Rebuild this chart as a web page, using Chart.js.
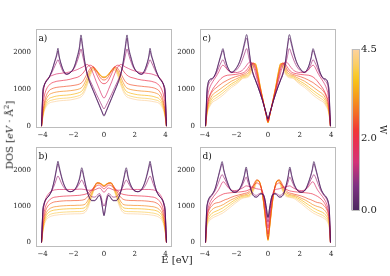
<!DOCTYPE html>
<html>
<head>
<meta charset="utf-8">
<script src="https://cdn.jsdelivr.net/npm/chart.js@4.4.0/dist/chart.umd.min.js"></script>
<style>
  body { margin: 0; width: 390px; height: 276px; background: #fff; position: relative; overflow: hidden; font-family: "DejaVu Serif", serif; }
  canvas { position: absolute; }
  .lbl { position: absolute; color: #222; font-size: 10px; white-space: nowrap; }
</style>
</head>
<body>
<canvas id="panelA" width="176" height="128" style="left:0;top:20px"></canvas>
<canvas id="panelB" width="176" height="129" style="left:0;top:138px"></canvas>
<canvas id="panelC" width="176" height="128" style="left:164px;top:20px"></canvas>
<canvas id="panelD" width="176" height="129" style="left:164px;top:138px"></canvas>
<canvas id="cbar" width="45" height="180" style="left:345px;top:40px"></canvas>
<div class="lbl" id="ylab" style="left:8.5px;top:135px;transform:translate(-50%,-50%) rotate(-90deg)">DOS [<i>eV</i> · Å<sup style="font-size:7px">2</sup>]</div>
<div class="lbl" id="xlab" style="left:177px;top:259px;transform:translate(-50%,-50%)">E [eV]</div>
<script>
// disorder strengths, one curve per value
const wValues = [0, 0.5, 1, 1.5, 2, 2.5, 3, 3.5, 4, 4.5];
const xTicks = [-4, -2, 0, 2, 4];
const yTicks = [0, 1000, 2000];
const barTicks = [0, 2, 4.5];

// curves are symmetric in E, so only E >= 0 is listed
const eHalfA = [0, 0.15, 0.3, 0.5, 0.7, 0.9, 1.1, 1.25, 1.4, 1.5, 1.6, 1.75, 1.95, 2.2, 2.45, 2.65, 2.8, 2.92, 3.0, 3.08, 3.2, 3.4, 3.6, 3.8, 3.92, 3.98, 4.07];
const dosA = [
  [270, 400, 550, 750, 950, 1150, 1420, 1750, 2200, 2470, 2150, 1880, 1600, 1450, 1410, 1520, 1700, 1900, 2110, 1950, 1780, 1500, 1310, 1200, 1080, 950, 0],
  [300, 420, 570, 770, 970, 1170, 1420, 1720, 2130, 2380, 2090, 1840, 1590, 1450, 1410, 1510, 1680, 1860, 2040, 1900, 1750, 1490, 1300, 1190, 1070, 940, 0],
  [470, 570, 700, 870, 1050, 1230, 1420, 1650, 1930, 2090, 1950, 1750, 1560, 1450, 1400, 1460, 1600, 1730, 1800, 1740, 1630, 1450, 1300, 1180, 1060, 880, 0],
  [760, 850, 1000, 1200, 1420, 1600, 1670, 1640, 1600, 1580, 1560, 1530, 1500, 1470, 1450, 1440, 1430, 1425, 1420, 1415, 1400, 1370, 1320, 1200, 1020, 780, 0],
  [1150, 1170, 1250, 1420, 1600, 1650, 1600, 1500, 1420, 1380, 1350, 1320, 1300, 1270, 1250, 1240, 1230, 1225, 1220, 1215, 1200, 1170, 1100, 950, 750, 550, 0],
  [1250, 1270, 1350, 1500, 1610, 1560, 1420, 1300, 1200, 1160, 1140, 1120, 1105, 1090, 1080, 1070, 1065, 1060, 1055, 1050, 1040, 1010, 950, 780, 560, 380, 0],
  [1310, 1330, 1400, 1520, 1590, 1500, 1320, 1180, 1070, 1030, 1010, 990, 975, 960, 950, 945, 940, 935, 930, 925, 915, 890, 840, 690, 500, 340, 0],
  [1330, 1350, 1410, 1520, 1570, 1450, 1230, 1080, 970, 930, 910, 890, 870, 850, 840, 835, 830, 825, 820, 815, 805, 780, 740, 610, 440, 300, 0],
  [1330, 1350, 1410, 1500, 1540, 1400, 1160, 1000, 890, 850, 830, 810, 790, 770, 760, 755, 750, 745, 740, 735, 725, 705, 670, 550, 400, 270, 0],
  [1320, 1340, 1400, 1480, 1510, 1350, 1100, 940, 830, 790, 770, 750, 730, 710, 700, 695, 690, 685, 680, 675, 665, 650, 615, 500, 360, 240, 0]
];

const eHalfB = [0, 0.1, 0.2, 0.3, 0.45, 0.6, 0.8, 1.0, 1.15, 1.3, 1.45, 1.58, 1.75, 1.95, 2.2, 2.45, 2.65, 2.8, 2.92, 3.0, 3.08, 3.2, 3.4, 3.6, 3.8, 3.92, 3.98, 4.07];
const dosB = [
  [730, 950, 1200, 1300, 1220, 1150, 1150, 1280, 1500, 1800, 2060, 1800, 1580, 1440, 1400, 1470, 1650, 1880, 2100, 2240, 2080, 1800, 1450, 1280, 1180, 1050, 900, 0],
  [760, 970, 1210, 1300, 1230, 1160, 1160, 1280, 1480, 1760, 1990, 1760, 1560, 1440, 1400, 1460, 1630, 1840, 2040, 2170, 2030, 1770, 1440, 1280, 1180, 1040, 890, 0],
  [1000, 1100, 1280, 1350, 1300, 1250, 1260, 1350, 1460, 1600, 1720, 1640, 1520, 1430, 1400, 1440, 1540, 1660, 1780, 1830, 1770, 1620, 1420, 1280, 1160, 1000, 850, 0],
  [1380, 1420, 1480, 1500, 1480, 1450, 1440, 1440, 1450, 1460, 1470, 1470, 1465, 1460, 1460, 1460, 1460, 1460, 1460, 1460, 1455, 1450, 1420, 1350, 1200, 1000, 780, 0],
  [1480, 1500, 1550, 1580, 1570, 1520, 1450, 1380, 1340, 1320, 1310, 1300, 1295, 1290, 1285, 1280, 1275, 1270, 1265, 1260, 1255, 1250, 1220, 1150, 1000, 780, 580, 0],
  [1540, 1560, 1600, 1630, 1640, 1570, 1430, 1300, 1220, 1180, 1165, 1160, 1155, 1155, 1150, 1150, 1145, 1140, 1135, 1130, 1125, 1120, 1090, 1030, 880, 650, 450, 0],
  [1560, 1580, 1620, 1640, 1650, 1560, 1380, 1200, 1090, 1040, 1030, 1025, 1025, 1020, 1020, 1015, 1010, 1005, 1000, 995, 990, 985, 960, 910, 780, 580, 400, 0],
  [1570, 1590, 1620, 1640, 1640, 1540, 1330, 1120, 1000, 950, 940, 935, 935, 930, 930, 925, 920, 915, 910, 905, 900, 895, 875, 830, 710, 520, 360, 0],
  [1570, 1590, 1620, 1630, 1630, 1520, 1290, 1060, 930, 870, 855, 850, 850, 848, 845, 840, 835, 830, 825, 820, 815, 810, 790, 750, 640, 470, 320, 0],
  [1560, 1580, 1610, 1620, 1610, 1500, 1250, 1000, 870, 810, 795, 790, 790, 788, 785, 780, 775, 770, 765, 760, 755, 750, 730, 690, 590, 430, 300, 0]
];

const eHalfC = [0, 0.1, 0.2, 0.35, 0.5, 0.65, 0.8, 0.95, 1.1, 1.22, 1.35, 1.47, 1.6, 1.8, 2.05, 2.3, 2.55, 2.72, 2.85, 2.97, 3.1, 3.3, 3.5, 3.7, 3.8, 3.86, 3.95];
const dosC = [
  [200, 330, 480, 700, 900, 1080, 1250, 1420, 1750, 2150, 2480, 2300, 2050, 1750, 1550, 1460, 1600, 1850, 2100, 1950, 1750, 1450, 1300, 1260, 1150, 950, 0],
  [200, 330, 480, 700, 900, 1080, 1250, 1420, 1730, 2100, 2390, 2230, 2000, 1730, 1540, 1460, 1590, 1820, 2050, 1910, 1720, 1440, 1290, 1250, 1140, 930, 0],
  [180, 310, 460, 690, 900, 1090, 1270, 1450, 1650, 1880, 2100, 1980, 1820, 1630, 1500, 1450, 1530, 1680, 1800, 1720, 1600, 1400, 1280, 1180, 1050, 800, 0],
  [150, 300, 470, 720, 950, 1200, 1450, 1650, 1740, 1720, 1650, 1580, 1520, 1470, 1450, 1460, 1520, 1610, 1650, 1600, 1480, 1330, 1200, 1020, 850, 620, 0],
  [130, 290, 470, 740, 1000, 1280, 1550, 1700, 1680, 1600, 1520, 1470, 1440, 1420, 1400, 1390, 1380, 1360, 1330, 1290, 1230, 1120, 1000, 820, 680, 500, 0],
  [110, 280, 470, 760, 1050, 1350, 1620, 1720, 1620, 1520, 1460, 1420, 1400, 1370, 1340, 1300, 1250, 1210, 1180, 1140, 1100, 1030, 950, 780, 620, 450, 0],
  [100, 280, 470, 770, 1070, 1400, 1680, 1700, 1560, 1460, 1410, 1380, 1370, 1320, 1270, 1220, 1150, 1100, 1060, 1020, 980, 920, 850, 690, 550, 400, 0],
  [90, 270, 470, 780, 1090, 1440, 1700, 1660, 1500, 1410, 1370, 1350, 1340, 1280, 1210, 1150, 1070, 1010, 970, 930, 890, 830, 770, 620, 500, 360, 0],
  [90, 270, 470, 780, 1100, 1460, 1680, 1610, 1450, 1370, 1340, 1320, 1310, 1240, 1160, 1100, 1010, 950, 900, 860, 820, 760, 700, 560, 450, 330, 0],
  [90, 270, 470, 780, 1100, 1460, 1650, 1560, 1410, 1340, 1310, 1300, 1290, 1210, 1120, 1050, 960, 890, 840, 800, 760, 700, 650, 520, 420, 300, 0]
];

const eHalfD = [0, 0.1, 0.2, 0.3, 0.45, 0.6, 0.72, 0.85, 1.0, 1.13, 1.26, 1.38, 1.5, 1.65, 1.85, 2.1, 2.35, 2.55, 2.7, 2.8, 2.9, 3.0, 3.13, 3.35, 3.55, 3.72, 3.82, 3.88, 3.95];
const dosD = [
  [700, 950, 1200, 1320, 1340, 1290, 1250, 1260, 1350, 1550, 1800, 2080, 1850, 1620, 1450, 1380, 1450, 1650, 1850, 2020, 2230, 2080, 1850, 1480, 1320, 1230, 1100, 900, 0],
  [680, 940, 1200, 1320, 1340, 1290, 1250, 1260, 1350, 1540, 1770, 2020, 1810, 1600, 1440, 1380, 1440, 1630, 1820, 1980, 2170, 2030, 1820, 1470, 1310, 1220, 1090, 890, 0],
  [560, 850, 1150, 1300, 1360, 1330, 1300, 1310, 1380, 1500, 1650, 1800, 1700, 1550, 1440, 1400, 1450, 1580, 1720, 1800, 1870, 1800, 1650, 1420, 1290, 1180, 1050, 850, 0],
  [400, 750, 1100, 1330, 1450, 1470, 1480, 1500, 1520, 1540, 1550, 1560, 1530, 1490, 1450, 1430, 1450, 1530, 1620, 1670, 1650, 1560, 1450, 1320, 1200, 1050, 880, 680, 0],
  [230, 600, 1000, 1300, 1530, 1620, 1640, 1600, 1520, 1470, 1440, 1420, 1410, 1400, 1390, 1380, 1370, 1360, 1350, 1340, 1320, 1300, 1270, 1200, 1100, 950, 800, 600, 0],
  [100, 450, 850, 1200, 1550, 1700, 1720, 1650, 1520, 1430, 1380, 1360, 1350, 1330, 1310, 1280, 1240, 1200, 1180, 1160, 1140, 1120, 1100, 1080, 1010, 900, 780, 600, 0],
  [80, 420, 820, 1180, 1550, 1710, 1720, 1610, 1460, 1380, 1340, 1320, 1310, 1300, 1270, 1220, 1170, 1120, 1080, 1050, 1030, 1010, 990, 960, 900, 800, 690, 530, 0],
  [60, 400, 800, 1170, 1550, 1710, 1700, 1570, 1410, 1330, 1300, 1290, 1280, 1270, 1230, 1170, 1100, 1040, 1000, 970, 940, 920, 890, 850, 800, 710, 610, 470, 0],
  [60, 400, 790, 1160, 1540, 1700, 1680, 1530, 1370, 1300, 1270, 1260, 1250, 1240, 1190, 1120, 1040, 970, 920, 890, 860, 840, 810, 770, 720, 640, 550, 420, 0],
  [60, 390, 780, 1150, 1530, 1680, 1650, 1490, 1340, 1270, 1250, 1240, 1230, 1210, 1150, 1070, 980, 910, 860, 830, 800, 780, 750, 710, 660, 590, 500, 380, 0]
];

// colormap stops (fraction of W range, rgb)
const cmapStops = [
  [0.00, [55, 14, 78]],
  [0.16, [115, 26, 118]],
  [0.30, [206, 28, 104]],
  [0.44, [234, 24, 56]],
  [0.50, [240, 34, 30]],
  [0.60, [242, 92, 15]],
  [0.72, [245, 152, 0]],
  [0.82, [248, 195, 0]],
  [0.90, [250, 200, 80]],
  [1.00, [252, 205, 150]]
];

function cmap(t, alpha) {
  for (let i = 1; i < cmapStops.length; i++) {
    const [t1, c1] = cmapStops[i];
    const [t0, c0] = cmapStops[i - 1];
    if (t <= t1) {
      const f = (t - t0) / (t1 - t0);
      const c = c0.map((v, k) => Math.round(v + (c1[k] - v) * f));
      return `rgba(${c[0]},${c[1]},${c[2]},${alpha})`;
    }
  }
  const c = cmapStops[cmapStops.length - 1][1];
  return `rgba(${c[0]},${c[1]},${c[2]},${alpha})`;
}

const tickFont = { family: 'DejaVu Serif', size: 7 };
const fmtTick = v => (v < 0 ? '\u2212' + Math.abs(v) : String(v));

// grey frame around each plot area
const framePlugin = {
  id: 'frame',
  afterDraw(chart) {
    const a = chart.chartArea;
    const c = chart.ctx;
    c.save();
    c.strokeStyle = '#bcbcbc';
    c.lineWidth = 1;
    c.strokeRect(Math.round(a.left) + 0.5, Math.round(a.top) + 0.5, Math.round(a.right - a.left) - 1, Math.round(a.bottom - a.top) - 1);
    c.restore();
  }
};

// panel letter in the upper left corner
const tagPlugin = {
  id: 'tag',
  afterDraw(chart, args, opts) {
    if (!opts.text) return;
    const a = chart.chartArea;
    const c = chart.ctx;
    c.save();
    c.fillStyle = '#111';
    c.font = '9px "DejaVu Serif"';
    c.textBaseline = 'middle';
    c.fillText(opts.text, a.left + 2.5, a.top + 9.5);
    c.restore();
  }
};

function makePanel(id, eHalf, dos, xMax, yMin, tag) {
  const datasets = dos.map((row, i) => {
    const pts = [];
    for (let k = eHalf.length - 1; k > 0; k--) pts.push({ x: -eHalf[k], y: row[k] });
    for (let k = 0; k < eHalf.length; k++) pts.push({ x: eHalf[k], y: row[k] });
    return {
      data: pts,
      borderColor: cmap(wValues[i] / 4.5, 0.7),
      borderWidth: 0.9,
      pointRadius: 0,
      cubicInterpolationMode: 'monotone',
      fill: false
    };
  });

  new Chart(document.getElementById(id), {
    type: 'line',
    data: { datasets },
    options: {
      responsive: false,
      animation: false,
      events: [],
      layout: { padding: { top: 4, right: 4, left: 0, bottom: 0 } },
      plugins: { legend: { display: false }, tooltip: { enabled: false }, tag: { text: tag } },
      scales: {
        x: {
          type: 'linear', min: -xMax, max: xMax,
          grid: { display: false, drawTicks: false },
          border: { display: false },
          afterBuildTicks: s => { s.ticks = xTicks.map(v => ({ value: v })); },
          afterFit: s => { s.height = 20; },
          ticks: { padding: 3, font: tickFont, color: '#222', maxRotation: 0, autoSkip: false, callback: fmtTick }
        },
        y: {
          type: 'linear', min: yMin, max: 2625,
          grid: { display: false, drawTicks: false },
          border: { display: false },
          afterBuildTicks: s => { s.ticks = yTicks.map(v => ({ value: v })); },
          afterFit: s => { s.width = 36; },
          ticks: { padding: 5, font: tickFont, color: '#222', autoSkip: false, callback: fmtTick }
        }
      }
    },
    plugins: [framePlugin, tagPlugin]
  });
}

makePanel('panelA', eHalfA, dosA, 4.43, -50, 'a)');
makePanel('panelB', eHalfB, dosB, 4.43, -125, 'b)');
makePanel('panelC', eHalfC, dosC, 4.3, -50, 'c)');
makePanel('panelD', eHalfD, dosD, 4.3, -125, 'd)');

// colour bar for W
new Chart(document.getElementById('cbar'), {
  type: 'bar',
  data: {
    labels: ['W'],
    datasets: [{
      data: [[0, 4.5]],
      borderWidth: 0,
      barPercentage: 1,
      categoryPercentage: 1,
      backgroundColor: ctx => {
        const area = ctx.chart.chartArea;
        if (!area) return 'rgba(0,0,0,0)';
        const g = ctx.chart.ctx.createLinearGradient(0, area.bottom, 0, area.top);
        for (let i = 0; i <= 20; i++) g.addColorStop(i / 20, cmap(i / 20, 0.9));
        return g;
      }
    }]
  },
  options: {
    responsive: false,
    animation: false,
    events: [],
    layout: { padding: { top: 9, bottom: 9.5, left: 6.5, right: 0 } },
    plugins: { legend: { display: false }, tooltip: { enabled: false } },
    scales: {
      x: { display: false },
      y: {
        position: 'right', min: 0, max: 4.5,
        grid: { display: false, drawTicks: false },
        border: { display: false },
        afterBuildTicks: s => { s.ticks = barTicks.map(v => ({ value: v })); },
        afterFit: s => { s.width = 31; },
        ticks: { padding: 2, font: { family: 'DejaVu Serif', size: 10 }, color: '#222', callback: v => v.toFixed(1) },
        title: { display: true, text: 'W', padding: 2, font: { family: 'DejaVu Serif', size: 9 }, color: '#222' }
      }
    }
  },
  plugins: [framePlugin]
});
</script>
</body>
</html>
